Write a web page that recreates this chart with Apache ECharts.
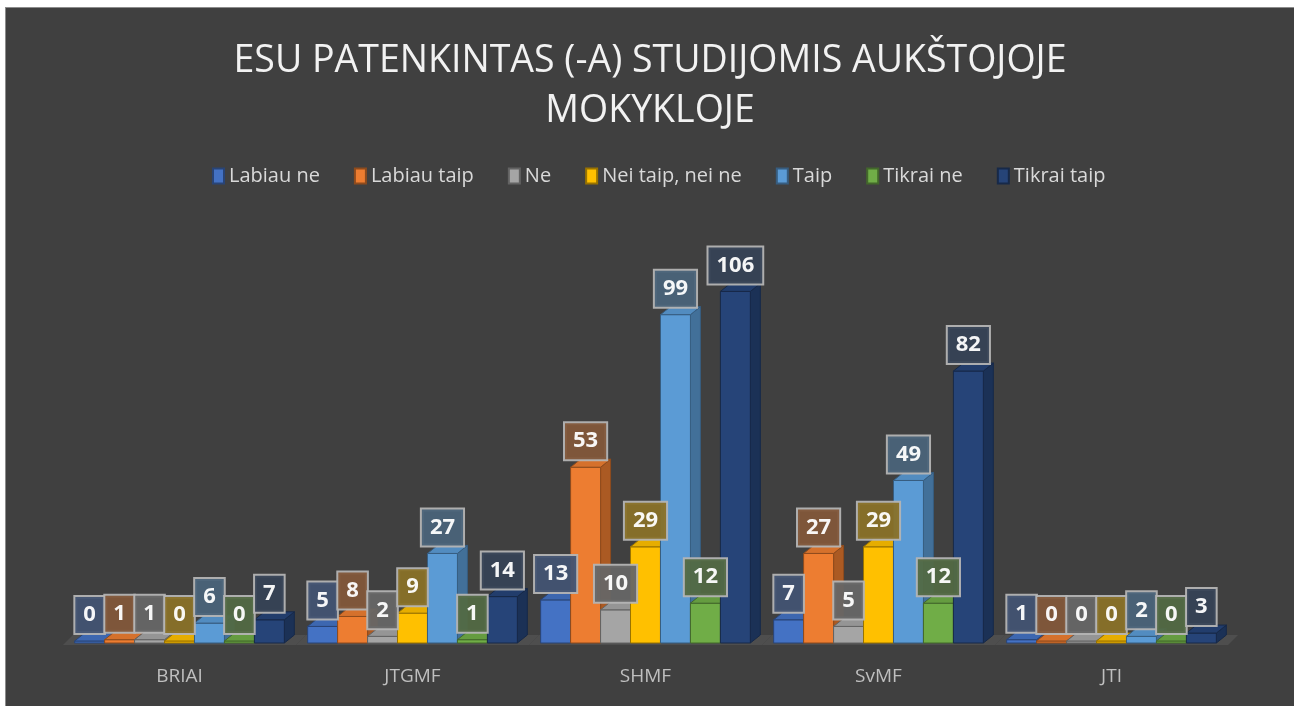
<!DOCTYPE html>
<html>
<head>
<meta charset="utf-8">
<script src="https://cdn.jsdelivr.net/npm/echarts@6/dist/echarts.min.js"></script>
<style>
  html, body { margin: 0; padding: 0; background: #ffffff; }
  #frame { position: absolute; left: 5px; top: 7px; width: 1289px; height: 699px;
           border-left: 1px solid #8c8c8c; border-top: 1px solid #8c8c8c; background: #404040; }
  #chart { width: 1288px; height: 698px; }
</style>
</head>
<body>
<div id="frame"><div id="chart"></div></div>
<script>
// kategorijos (fakultetai)
var categories = ['BRIAI', 'JTGMF', 'SHMF', 'SvMF', 'JTI'];

// atsakymų reikšmės
var labiauNe = [0, 5, 13, 7, 1];
var labiauTaip = [1, 8, 53, 27, 0];
var ne = [1, 2, 10, 5, 0];
var neiTaipNeiNe = [0, 9, 29, 29, 0];
var taip = [6, 27, 99, 49, 2];
var tikraiNe = [0, 1, 12, 12, 0];
var tikraiTaip = [7, 14, 106, 82, 3];

var seriesNames = ['Labiau ne', 'Labiau taip', 'Ne', 'Nei taip, nei ne', 'Taip', 'Tikrai ne', 'Tikrai taip'];
var seriesValues = [labiauNe, labiauTaip, ne, neiTaipNeiNe, taip, tikraiNe, tikraiTaip];
var colors = ['#4472C4', '#ED7D31', '#A5A5A5', '#FFC000', '#5B9BD5', '#70AD47', '#264478'];

var DX = 10, DY = 8;

function mix(hex, other, t) {
  var a = parseInt(hex.slice(1), 16), b = parseInt(other.slice(1), 16);
  var r = Math.round(((a >> 16) & 255) * t + ((b >> 16) & 255) * (1 - t));
  var g = Math.round(((a >> 8) & 255) * t + ((b >> 8) & 255) * (1 - t));
  var bl = Math.round((a & 255) * t + (b & 255) * (1 - t));
  return 'rgb(' + r + ',' + g + ',' + bl + ')';
}

function barRenderer(k) {
  var col = colors[k];
  var front = col;
  var top = mix(col, '#000000', 0.9);
  var side = mix(col, '#000000', 0.72);
  var edge = mix(col, '#000000', 0.6);
  var labelBg = mix(col, '#404040', 0.38);
  return function (params, api) {
    var ci = api.value(0), v = api.value(1);
    var base = api.coord([ci, 0]);
    var pt = api.coord([ci, v]);
    var band = api.size([1, 0])[0];
    var w = band * 0.9 / 7;
    var x0 = base[0] - band * 0.45 + k * w;
    var yb = base[1];
    var yt = Math.min(pt[1], yb - 2);
    var x1 = x0 + w;
    return {
      type: 'group',
      children: [
        { type: 'polygon', shape: { points: [[x1, yt], [x1 + DX, yt - DY], [x1 + DX, yb - DY], [x1, yb]] },
          style: { fill: side, stroke: edge, lineWidth: 1 } },
        { type: 'rect', shape: { x: x0, y: yt, width: w, height: yb - yt },
          style: { fill: front, stroke: edge, lineWidth: 1 } },
        { type: 'polygon', shape: { points: [[x0, yt], [x1, yt], [x1 + DX, yt - DY], [x0 + DX, yt - DY]] },
          style: { fill: top, stroke: edge, lineWidth: 1 } },
        { type: 'text', x: x0 + w / 2, y: yt - DY, z2: 100,
          style: { text: String(v), fill: '#ffffff', font: 'bold 22px "Open Sans"',
                   align: 'center', verticalAlign: 'bottom',
                   backgroundColor: labelBg, borderColor: '#b4b4b4', borderWidth: 2,
                   padding: [7, 8], opacity: 0.95 } }
      ]
    };
  };
}

var series = [{
  type: 'custom',
  silent: true,
  z: 1,
  data: categories.map(function (c, i) { return [i, 0]; }),
  renderItem: function (params, api) {
    var ci = api.value(0);
    var base = api.coord([ci, 0]);
    var band = api.size([1, 0])[0];
    var xl = base[0] - band / 2, xr = base[0] + band / 2, y = base[1] + 2;
    return {
      type: 'polygon',
      shape: { points: [[xl, y], [xr, y], [xr + DX, y - DY - 2], [xl + DX, y - DY - 2]] },
      style: { fill: '#4e4e4e' }
    };
  }
}];

seriesValues.forEach(function (vals, k) {
  series.push({
    name: seriesNames[k],
    type: 'custom',
    z: 2,
    itemStyle: { color: colors[k], borderColor: mix(colors[k], '#000000', 0.6), borderWidth: 1.5 },
    data: vals.map(function (v, i) { return [i, v]; }),
    renderItem: barRenderer(k)
  });
});

var chart = echarts.init(document.getElementById('chart'));
chart.setOption({
  backgroundColor: '#404040',
  animation: false,
  title: {
    text: 'ESU PATENKINTAS (-A) STUDIJOMIS AUKŠTOJOJE\nMOKYKLOJE',
    left: 'center',
    top: 23,
    textStyle: { color: '#f2f2f2', fontFamily: 'Open Sans', fontWeight: 'normal', fontSize: 37.5, lineHeight: 50 }
  },
  legend: {
    data: seriesNames,
    top: 153,
    left: 201,
    icon: 'rect',
    itemWidth: 11,
    itemHeight: 15,
    itemGap: 34,
    textStyle: { color: '#d9d9d9', fontFamily: 'Open Sans', fontSize: 20 }
  },
  grid: { left: 57, right: 66, top: 237, bottom: 63 },
  xAxis: {
    type: 'category',
    data: categories,
    axisLine: { show: false },
    axisTick: { show: false },
    axisLabel: { color: '#bfbfbf', fontFamily: 'Open Sans', fontSize: 19, margin: 24 }
  },
  yAxis: {
    type: 'value',
    min: 0,
    max: 120,
    show: false,
    splitLine: { show: false }
  },
  series: series
});
</script>
</body>
</html>
